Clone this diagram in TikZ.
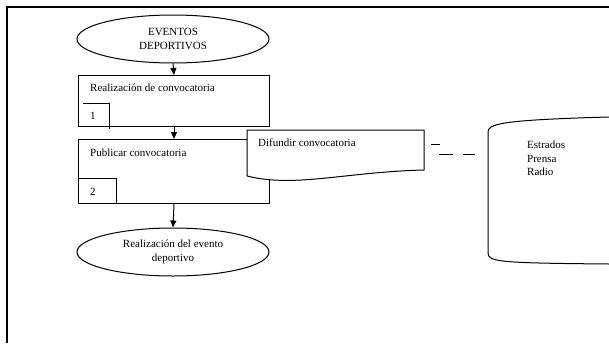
\documentclass[tikz,border=0pt]{standalone}
\usepackage{fontspec}
\setmainfont{Liberation Serif}
\usetikzlibrary{shapes.geometric,arrows.meta}
\begin{document}
\begin{tikzpicture}[x=1pt,y=-1pt,
  every node/.style={font=\fontsize{11}{13.5}\selectfont},
  line/.style={draw=black,line width=1pt},
  oval/.style={ellipse,draw=black,line width=1pt,minimum width=192pt,minimum height=48pt,inner sep=0pt,align=center},
  procbox/.style={draw=black,line width=1pt,minimum width=191pt,inner sep=0pt,anchor=north west},
  lbl/.style={anchor=west,inner sep=0pt},
  arr/.style={line width=1pt,-{Triangle[width=6pt,length=7pt]}}]
\useasboundingbox (0,0) rectangle (609,343);
% frame
\draw[line width=1.3pt] (7,343) -- (7,7) -- (609,7);
% start
\node[oval] (e1) at (173,39) {EVENTOS\\DEPORTIVOS};
% box 1
\node[procbox,minimum height=51pt] (b1) at (78,75) {};
\node[lbl] (t1) at (90,88) {Realización de convocatoria};
\draw[line] (83,103) -- (109,103) -- (109,129);
\node[lbl] (n1) at (90,116) {1};
% box 2
\node[procbox,minimum height=64pt] (b2) at (78,139) {};
\node[lbl] (t2) at (90,153) {Publicar convocatoria};
\draw[line] (78,178) rectangle (116,203);
\node[lbl] (n2) at (90,192) {2};
% end
\node[oval] (e2) at (173,252) {Realización del evento\\deportivo};
% arrows
\draw[arr] (e1.south) -- (b1.north);
\draw[arr] (b1.south) -- (b2.north);
\draw[arr] (b2.south) -- (e2.north);
% document
\coordinate (d1) at (247,130);
\coordinate (d2) at (424,130);
\coordinate (d3) at (424,170);
\coordinate (d4) at (247,176);
\draw[line,fill=white] (d1) -- (d2) -- (d3) .. controls (345,172) and (295,188) .. (d4) -- cycle;
\node[lbl] (doc) at (258,143) {Difundir convocatoria};
% dashed connector
\coordinate (c1) at (431,144);
\coordinate (c2) at (440,144);
\draw[line] (c1) -- (c2);
\draw[line] (439,154) -- (453,154);
\draw[line] (463,154) -- (475,154);
% storage
\coordinate (s1) at (488,132);
\coordinate (s2) at (488,253);
\draw[line] (609,117) .. controls (500,120) and (488,124) .. (s1) -- (s2) .. controls (488,262) and (500,263) .. (609,264);
\node[anchor=north west,inner sep=0pt,align=left] (store) at (527,141) {Estrados\\Prensa\\Radio};
\end{tikzpicture}
\end{document}
